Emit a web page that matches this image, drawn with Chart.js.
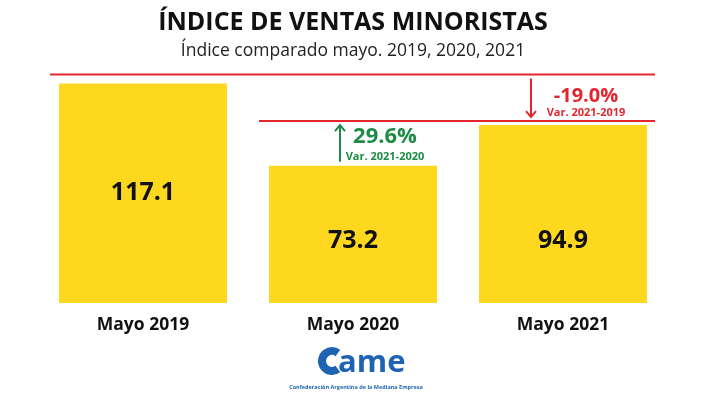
<!DOCTYPE html>
<html>
<head>
<meta charset="utf-8">
<script src="https://cdn.jsdelivr.net/npm/chart.js@4.4.0/dist/chart.umd.min.js"></script>
<style>
  html, body { margin: 0; padding: 0; background: #fff; }
  #wrap { width: 706px; height: 397px; }
</style>
</head>
<body>
<div id="wrap"><canvas id="ventasChart" width="706" height="397"></canvas></div>
<script>
const categories = ['Mayo 2019', 'Mayo 2020', 'Mayo 2021'];
const indexValues = [117.1, 73.2, 94.9];
const titleText = 'ÍNDICE DE VENTAS MINORISTAS';
const subtitleText = 'Índice comparado mayo. 2019, 2020, 2021';

const YELLOW = '#fdd81f';
const RED = '#e3262d';
const GREEN = '#1d8a45';
const BLUE = '#1f64b3';
const FONT = '"Open Sans", "DejaVu Sans", sans-serif';

function pct(a, b) {
    const v = (a / b - 1) * 100;
    return v.toFixed(1) + '%';
}

/* ================= OVERLAY: labels, variation lines, logo ================= */
const overlay = {
    id: 'overlay',
    afterDatasetsDraw(chart) {
        const ctx = chart.ctx;
        const bars = chart.getDatasetMeta(0).data;
        const b1 = bars[0], b2 = bars[1], b3 = bars[2];
        const half = b => b.width / 2;

        // values inside bars
        ctx.save();
        ctx.fillStyle = '#111';
        ctx.font = 'bold 25px ' + FONT;
        ctx.textAlign = 'center';
        ctx.textBaseline = 'middle';
        const offs = [0, 6, 27];
        bars.forEach((bar, i) => {
            const y = (bar.y + bar.base) / 2 + offs[i];
            ctx.fillText(indexValues[i].toFixed(1), bar.x, y);
        });

        // reference lines
        const line1 = b1.y - 9;
        const line2 = b3.y - 4;
        ctx.strokeStyle = RED;
        ctx.lineWidth = 2;
        ctx.beginPath();
        ctx.moveTo(b1.x - half(b1) - 9, line1);
        ctx.lineTo(b3.x + half(b3) + 8, line1);
        ctx.moveTo(b2.x - half(b2) - 10, line2);
        ctx.lineTo(b3.x + half(b3) + 8, line2);
        ctx.stroke();

        function arrow(x, yFrom, yTo, color) {
            const dir = yTo > yFrom ? 1 : -1;
            ctx.strokeStyle = color;
            ctx.lineWidth = 2;
            ctx.beginPath();
            ctx.moveTo(x, yFrom);
            ctx.lineTo(x, yTo);
            ctx.moveTo(x - 5, yTo - dir * 6);
            ctx.lineTo(x, yTo);
            ctx.lineTo(x + 5, yTo - dir * 6);
            ctx.stroke();
        }

        // 2021 vs 2019 (down)
        const xr = b3.x - half(b3) + 52;
        arrow(xr, line1 + 4, line2 - 4, RED);
        ctx.fillStyle = RED;
        ctx.font = 'bold 20px ' + FONT;
        ctx.fillText(pct(indexValues[2], indexValues[0]), b3.x + 23, line1 + 22);
        ctx.font = 'bold 11px ' + FONT;
        ctx.fillText('Var. 2021-2019', b3.x + 23, line1 + 38);

        // 2021 vs 2020 (up)
        const xg = b2.x - half(b2) + 71;
        arrow(xg, b2.y - 4, line2 + 4, GREEN);
        ctx.fillStyle = GREEN;
        ctx.font = 'bold 22px ' + FONT;
        ctx.fillText(pct(indexValues[2], indexValues[1]), b2.x + 32, line2 + 16);
        ctx.font = 'bold 11px ' + FONT;
        ctx.fillText('Var. 2021-2020', b2.x + 32, line2 + 36);

        // logo
        const lx = 332, ly = 361;
        ctx.strokeStyle = BLUE;
        ctx.lineWidth = 8;
        ctx.beginPath();
        ctx.arc(lx, ly, 10, 0.3 * Math.PI, 1.7 * Math.PI);
        ctx.stroke();
        ctx.fillStyle = BLUE;
        ctx.font = 'bold 31px ' + FONT;
        ctx.textAlign = 'left';
        ctx.textBaseline = 'alphabetic';
        ctx.fillText('ame', 338, 372);
        ctx.font = 'bold 5.5px ' + FONT;
        ctx.textAlign = 'center';
        ctx.fillText('Confederación Argentina de la Mediana Empresa', 356, 389);
        ctx.restore();
    }
};

/* ================= CHART ================= */
new Chart(document.getElementById('ventasChart'), {
    type: 'bar',
    data: {
        labels: categories,
        datasets: [{
            data: indexValues,
            backgroundColor: YELLOW,
            borderWidth: 0,
            categoryPercentage: 1,
            barPercentage: 0.8
        }]
    },
    options: {
        responsive: false,
        animation: false,
        layout: { padding: { left: 38, right: 38, top: 0, bottom: 49 } },
        plugins: {
            legend: { display: false },
            tooltip: { enabled: false },
            title: {
                display: true,
                text: titleText,
                color: '#111',
                font: { family: FONT, size: 25, weight: 'bold' },
                padding: { top: 8, bottom: 3 }
            },
            subtitle: {
                display: true,
                text: subtitleText,
                color: '#222',
                font: { family: FONT, size: 17.5, weight: 'normal' },
                padding: { top: 0, bottom: 1 }
            }
        },
        scales: {
            x: {
                grid: { display: false, drawTicks: false },
                border: { display: false },
                ticks: {
                    color: '#111',
                    padding: 12,
                    font: { family: FONT, size: 17.5, weight: 'bold' }
                }
            },
            y: {
                display: false,
                min: 0,
                max: 128
            }
        }
    },
    plugins: [overlay]
});
</script>
</body>
</html>
